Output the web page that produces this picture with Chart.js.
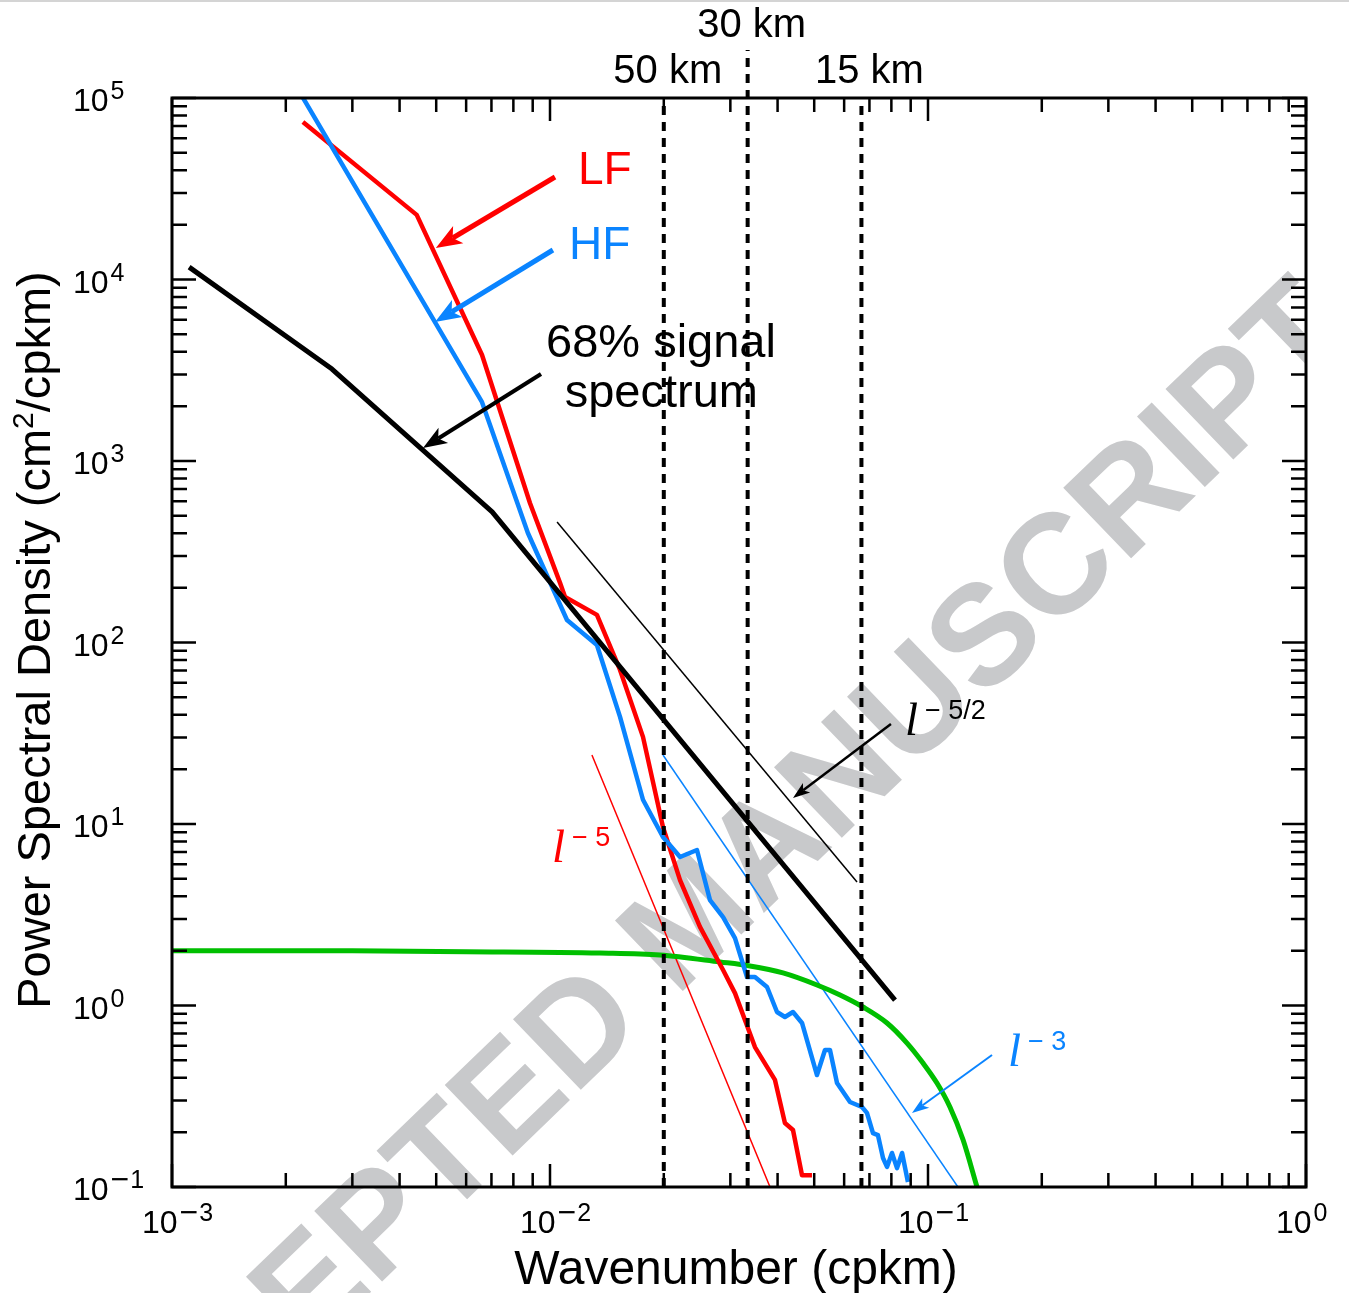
<!DOCTYPE html>
<html>
<head>
<meta charset="utf-8">
<script src="https://cdn.jsdelivr.net/npm/chart.js@4.4.1/dist/chart.umd.min.js"></script>
<style>
  html, body { margin: 0; padding: 0; background: #fff; }
  #wrap { position: relative; width: 1349px; height: 1293px; }
  #rule { position: absolute; left: 0; top: 0; width: 1349px; height: 2px; background: #d4d4d4; }
</style>
</head>
<body>
<div id="wrap"><canvas id="psd"></canvas><div id="rule"></div></div>
<script>
// wavenumber (cpkm) and power spectral density (cm^2/cpkm)
const kLF = [0.00222, 0.00444, 0.00661, 0.00885, 0.01063, 0.01096, 0.01331, 0.01532, 0.01762, 0.0199,
             0.02208, 0.02493, 0.0287, 0.03086, 0.03485, 0.03937, 0.04183, 0.04394, 0.04642, 0.04932];
const psdLF = [73800, 22700, 3840, 587, 213, 178, 142, 70.6, 30.2, 9.63,
               4.91, 2.71, 1.57, 1.17, 0.59, 0.389, 0.225, 0.206, 0.116, 0.116];

const kHF = [0.00221, 0.00661, 0.00874, 0.01109, 0.01331, 0.01532, 0.01762, 0.0199, 0.02208, 0.02448,
             0.0265, 0.0287, 0.03086, 0.0332, 0.03485, 0.03751, 0.03986, 0.04183, 0.04394, 0.04642,
             0.05085, 0.05339, 0.05504, 0.05745, 0.06218, 0.06688, 0.06895, 0.07152, 0.07373, 0.07603,
             0.0779, 0.0803, 0.0828, 0.0854, 0.0885];
const psdHF = [102000, 2110, 401, 133, 96.9, 38.9, 13.6, 8.48, 6.58, 7.19,
               3.81, 3.07, 2.35, 1.435, 1.435, 1.265, 0.921, 0.864, 0.921, 0.801,
               0.414, 0.569, 0.569, 0.374, 0.294, 0.276, 0.256, 0.198, 0.193, 0.1445,
               0.129, 0.154, 0.127, 0.154, 0.1065];

const kSignal = [0.00111, 0.00265, 0.00703, 0.0818];
const psdSignal = [11700, 3210, 524, 1.07];

const kNoise = [0.001, 0.003, 0.006, 0.01356, 0.01954, 0.02817, 0.03381, 0.04134, 0.05085, 0.05852,
                0.0673, 0.0779, 0.088, 0.097, 0.1056, 0.1143, 0.1238, 0.1348];
const psdNoise = [2.0, 2.0, 1.98, 1.947, 1.90, 1.738, 1.652, 1.511, 1.297, 1.143,
                  0.981, 0.801, 0.621, 0.482, 0.374, 0.276, 0.182, 0.1];

// power-law guides l^-5/2, l^-5, l^-3
const kSlope52 = [0.01044, 0.0649];
const psdSlope52 = [461, 4.79];
const kSlope5 = [0.01291, 0.0382];
const psdSlope5 = [24.0, 0.1];
const kSlope3 = [0.0199, 0.120];
const psdSlope3 = [24.0, 0.1];

// wavelengths marked with dashed lines
const kmMarks = [50, 30, 15];

const xDecades = [-3, -2, -1, 0];
const yDecades = [-1, 0, 1, 2, 3, 4, 5];

const SANS = '"Liberation Sans", Arial, Helvetica, sans-serif';
const SERIF = '"Liberation Serif", "Times New Roman", serif';
const RED = '#ff0000';
const BLUE = '#0a84ff';
const GREEN = '#00bf00';

const toXY = (ks, ps) => ks.map((k, i) => ({ x: k, y: ps[i] }));

const line = (ks, ps, color, width, extra) => Object.assign({
    data: toXY(ks, ps),
    showLine: true,
    borderColor: color,
    borderWidth: width,
    pointRadius: 0,
    fill: false,
    borderJoinStyle: 'round',
    borderCapStyle: 'butt'
}, extra || {});

// "10" with a raised exponent; negative exponents get a wide minus
function powLabel(ctx, exp, x, baseY) {
    ctx.font = '32px ' + SANS;
    ctx.textAlign = 'left';
    ctx.textBaseline = 'alphabetic';
    ctx.fillText('10', x, baseY);
    let ex = x + ctx.measureText('10').width + 2;
    const eb = baseY - 12;
    if (exp < 0) {
        ctx.font = '32px ' + SANS;
        ctx.fillText('\u2212', ex, eb + 2);
        ex += ctx.measureText('\u2212').width + 1;
    }
    ctx.font = '25px ' + SANS;
    ctx.fillText(String(Math.abs(exp)), ex, eb);
}

function arrow(ctx, x1, y1, x2, y2, color, lw, len, half) {
    const a = Math.atan2(y2 - y1, x2 - x1);
    const c = Math.cos(a), s = Math.sin(a);
    const nx = x2 - len * 0.75 * c, ny = y2 - len * 0.75 * s;
    ctx.strokeStyle = color;
    ctx.lineWidth = lw;
    ctx.lineCap = 'butt';
    ctx.beginPath();
    ctx.moveTo(x1, y1);
    ctx.lineTo(nx, ny);
    ctx.stroke();
    ctx.fillStyle = color;
    ctx.beginPath();
    ctx.moveTo(x2, y2);
    ctx.lineTo(x2 - len * c + half * s, y2 - len * s - half * c);
    ctx.lineTo(nx, ny);
    ctx.lineTo(x2 - len * c - half * s, y2 - len * s + half * c);
    ctx.closePath();
    ctx.fill();
}

function slopeLabel(ctx, exp, x, y, color) {
    ctx.fillStyle = color;
    ctx.textAlign = 'left';
    ctx.textBaseline = 'alphabetic';
    ctx.font = 'italic 47px ' + SERIF;
    ctx.fillText('l', x, y);
    ctx.font = '27px ' + SANS;
    ctx.fillText('\u2212 ' + exp, x + 20, y - 16);
}

// arrows and labels placed in data coordinates (wavenumber, PSD)
const arrows = [
    { from: [0.01031, 36700], to: [0.00499, 14920], color: RED, lw: 5, len: 26, half: 10 },
    { from: [0.01018, 14540], to: [0.004964, 5834], color: BLUE, lw: 5, len: 26, half: 10 },
    { from: [0.009467, 3016], to: [0.004613, 1179], color: '#000', lw: 4, len: 24, half: 9 },
    { from: [0.0798, 35.6], to: [0.04394, 13.9], color: '#000', lw: 2.5, len: 17, half: 6 },
    { from: [0.1477, 0.534], to: [0.0907, 0.2557], color: BLUE, lw: 2, len: 17, half: 6 }
];

const psdDecor = {
    id: 'psdDecor',
    beforeDatasetsDraw(chart) {
        const { ctx, chartArea: a, width, height } = chart;
        ctx.save();
        // stamp stays left of the right-hand axis
        ctx.beginPath();
        ctx.rect(0, 0, a.right, height);
        ctx.clip();
        ctx.translate(1357, 340);
        ctx.rotate(-44 * Math.PI / 180);
        ctx.font = 'bold 142px ' + SANS;
        ctx.fillStyle = 'rgb(200,201,203)';
        ctx.textAlign = 'right';
        ctx.textBaseline = 'alphabetic';
        ctx.fillText('ACCEPTED MANUSCRIPT', 0, 0);
        ctx.restore();
    },
    afterDatasetsDraw(chart) {
        const { ctx, chartArea: a, scales: { x, y } } = chart;
        const px = (v) => x.getPixelForValue(v);
        const py = (v) => y.getPixelForValue(v);
        ctx.save();

        // dashed wavelength markers
        ctx.strokeStyle = '#000';
        ctx.lineWidth = 4;
        ctx.setLineDash([9, 7]);
        kmMarks.forEach((km) => {
            const xx = px(1 / km);
            ctx.beginPath();
            ctx.moveTo(xx, a.bottom);
            ctx.lineTo(xx, km === 30 ? a.top - 48 : a.top);
            ctx.stroke();
        });
        ctx.setLineDash([]);

        ctx.fillStyle = '#000';
        ctx.font = '40px ' + SANS;
        ctx.textAlign = 'center';
        ctx.textBaseline = 'alphabetic';
        kmMarks.forEach((km) => {
            const xx = px(1 / km);
            const base = km === 30 ? a.top - 61 : a.top - 15;
            ctx.fillText(km + ' km', xx + (km === 15 ? 8 : 4), base);
        });

        // frame and inward ticks on all four sides
        ctx.lineWidth = 3;
        ctx.strokeRect(a.left, a.top, a.right - a.left, a.bottom - a.top);
        ctx.lineWidth = 2.5;
        ctx.beginPath();
        xDecades.forEach((e) => {
            for (let m = 1; m <= 9; m++) {
                const v = m * Math.pow(10, e);
                if (v > 1.0001) break;
                const xx = px(v);
                const len = m === 1 ? 23 : 14;
                ctx.moveTo(xx, a.bottom); ctx.lineTo(xx, a.bottom - len);
                ctx.moveTo(xx, a.top); ctx.lineTo(xx, a.top + len);
            }
        });
        yDecades.forEach((e) => {
            for (let m = 1; m <= 9; m++) {
                const v = m * Math.pow(10, e);
                if (v > 1.0001e5) break;
                const yy = py(v);
                const len = m === 1 ? 24 : 15;
                ctx.moveTo(a.left, yy); ctx.lineTo(a.left + len, yy);
                ctx.moveTo(a.right, yy); ctx.lineTo(a.right - len, yy);
            }
        });
        ctx.stroke();

        // decade labels
        ctx.fillStyle = '#000';
        xDecades.forEach((e) => powLabel(ctx, e, px(Math.pow(10, e)) - 30, a.bottom + 46));
        yDecades.forEach((e) => powLabel(ctx, e, 73, py(Math.pow(10, e)) + 13));

        // axis titles
        ctx.font = '48px ' + SANS;
        ctx.textAlign = 'center';
        ctx.fillText('Wavenumber (cpkm)', 736, 1284);
        ctx.save();
        ctx.translate(50, 640);
        ctx.rotate(-Math.PI / 2);
        const t1 = 'Power Spectral Density (cm';
        const t2 = '/cpkm)';
        ctx.font = '47px ' + SANS;
        const w1 = ctx.measureText(t1).width;
        const w2 = ctx.measureText(t2).width;
        ctx.font = '30px ' + SANS;
        const ws = ctx.measureText('2').width;
        const cx = -(w1 + ws + w2) / 2;
        ctx.textAlign = 'left';
        ctx.font = '47px ' + SANS;
        ctx.fillText(t1, cx, 0);
        ctx.font = '30px ' + SANS;
        ctx.fillText('2', cx + w1, -17);
        ctx.font = '47px ' + SANS;
        ctx.fillText(t2, cx + w1 + ws, 0);
        ctx.restore();

        // callout arrows
        arrows.forEach((r) => arrow(ctx, px(r.from[0]), py(r.from[1]), px(r.to[0]), py(r.to[1]),
            r.color, r.lw, r.len, r.half));

        // callout text
        ctx.textAlign = 'left';
        ctx.font = '46px ' + SANS;
        ctx.fillStyle = RED;
        ctx.fillText('LF', px(0.01186), py(33600));
        ctx.fillStyle = BLUE;
        ctx.fillText('HF', px(0.01123), py(12970));
        ctx.fillStyle = '#000';
        ctx.font = '47px ' + SANS;
        ctx.textAlign = 'center';
        ctx.fillText('68% signal', px(0.01966), py(3741));
        ctx.fillText('spectrum', px(0.0197), py(1984));

        slopeLabel(ctx, '5/2', px(0.0869), py(30.9), '#000');
        slopeLabel(ctx, '5', px(0.01012), py(6.17), RED);
        slopeLabel(ctx, '3', px(0.1628), py(0.464), BLUE);

        ctx.restore();
    }
};

new Chart(document.getElementById('psd'), {
    type: 'scatter',
    data: {
        datasets: [
            line(kSignal, psdSignal, '#000', 5),
            line(kHF, psdHF, BLUE, 4.5),
            line(kLF, psdLF, RED, 4.5),
            line(kNoise, psdNoise, GREEN, 5, { cubicInterpolationMode: 'monotone' }),
            line(kSlope52, psdSlope52, '#000', 1.5),
            line(kSlope5, psdSlope5, RED, 1.5),
            line(kSlope3, psdSlope3, BLUE, 1.5)
        ]
    },
    options: {
        responsive: true,
        maintainAspectRatio: false,
        animation: false,
        devicePixelRatio: 1,
        layout: { padding: { left: 172, right: 43, top: 98, bottom: 106 } },
        scales: {
            x: { type: 'logarithmic', min: 0.001, max: 1, display: false },
            y: { type: 'logarithmic', min: 0.1, max: 1e5, display: false }
        },
        plugins: {
            legend: { display: false },
            tooltip: { enabled: false }
        }
    },
    plugins: [psdDecor]
});
</script>
</body>
</html>
